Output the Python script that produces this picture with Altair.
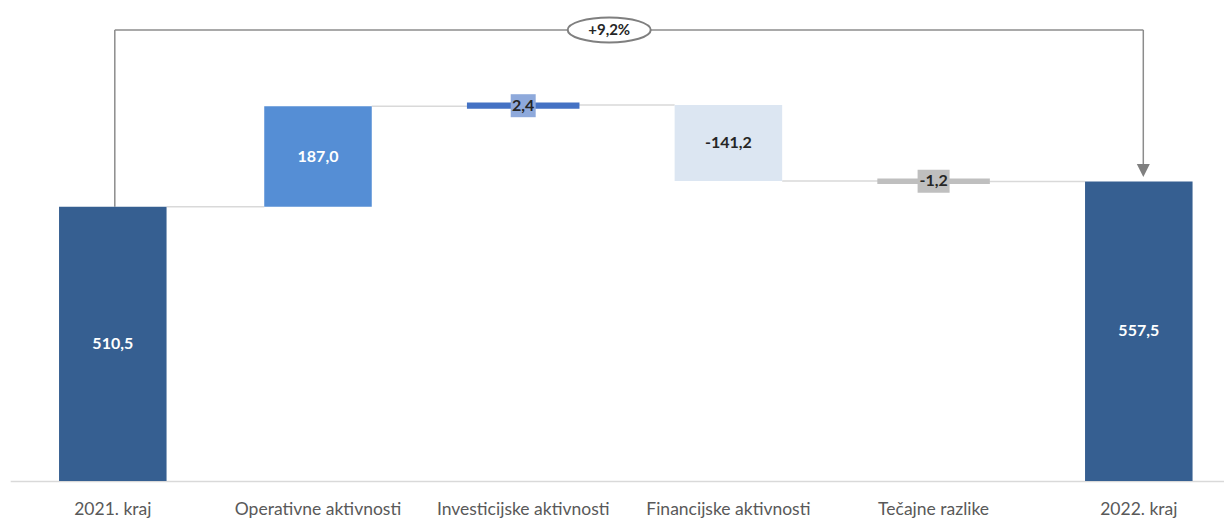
import altair as alt
import pandas as pd

# ---- data ----
categories = ["2021. kraj", "Operativne aktivnosti", "Investicijske aktivnosti",
              "Financijske aktivnosti", "Tečajne razlike", "2022. kraj"]
values = [510.5, 187.0, 2.4, -141.2, -1.2, 557.5]
kinds = ["total", "delta", "delta", "delta", "delta", "total"]
bar_colors = ["#365F91", "#558ED5", "#4472C4", "#DCE6F2", "#BFBFBF", "#365F91"]
label_colors = ["#FFFFFF", "#FFFFFF", "#262626", "#262626", "#262626", "#FFFFFF"]
box_colors = ["#FFFFFF", "#FFFFFF", "#8EA9DB", "#FFFFFF", "#BFBFBF", "#FFFFFF"]

# ---- build waterfall table ----
rows = []
level = 0.0
for i, (c, v, k) in enumerate(zip(categories, values, kinds)):
    if k == "total":
        start, end = 0.0, v
    else:
        start, end = level, level + v
    level = end
    lab = f"{v:.1f}".replace(".", ",")
    rows.append(dict(cat=c, value=v, kind=k, start=start, end=end,
                     mid=(start + end) / 2, label=lab,
                     nxt=categories[i + 1] if i + 1 < len(categories) else "",
                     small=bool(abs(v) < 10),
                     bcol=bar_colors[i], lcol=label_colors[i], xcol=box_colors[i]))
df = pd.DataFrame(rows)

pct = (values[-1] / values[0] - 1) * 100
pct_label = ("+" if pct >= 0 else "") + f"{pct:.1f}".replace(".", ",") + "%"
ANNOT_Y = 839.7
ARROW_END = 586.5
ARROW_TIP = 578.0

FONT = "Lato"
HALF_BAND = 53.75
x_scale = alt.Scale(domain=categories, range=[2.2, 1233.4],
                    paddingInner=0.476, paddingOuter=0.238)
y_scale = alt.Scale(domain=[0, 880.6], nice=False, zero=True)

X = alt.X("cat:N", scale=x_scale, sort=categories,
          axis=alt.Axis(title=None, labelAngle=0, ticks=False, labelPadding=19,
                        labelFont=FONT, labelFontSize=17.5, labelColor="#595959",
                        domainColor="#D9D9D9", domainWidth=1.5, grid=False))
Y = lambda f: alt.Y(f, scale=y_scale, axis=None)

base = alt.Chart(df)

connectors = base.transform_filter("datum.nxt != ''").mark_rule(
    color="#D9D9D9", strokeWidth=1.5, xOffset=HALF_BAND, x2Offset=-HALF_BAND).encode(
    x=X, x2="nxt:N", y=Y("end:Q"))

bars = base.mark_bar().encode(
    x=X,
    y=Y("start:Q"),
    y2="end:Q",
    color=alt.Color("bcol:N", scale=None),
    stroke=alt.Stroke("bcol:N", scale=None),
    strokeWidth=alt.condition("datum.small", alt.value(5), alt.value(0)),
)

boxes = base.transform_filter("datum.small").mark_tick(thickness=23, opacity=1).encode(
    x=X,
    y=Y("mid:Q"),
    color=alt.Color("xcol:N", scale=None),
    size=alt.condition("datum.value < 0", alt.value(32), alt.value(25)),
)

labels = base.mark_text(font=FONT, fontSize=16, fontWeight="bold",
                        baseline="middle", align="center").encode(
    x=X,
    y=Y("mid:Q"),
    text="label:N",
    color=alt.Color("lcol:N", scale=None),
)

ann = pd.DataFrame([dict(a=categories[0], b=categories[-1], top=ANNOT_Y,
                         lo=values[0], hi=ARROW_END, tip=ARROW_TIP,
                         mid=categories[2], txt=pct_label)])
abase = alt.Chart(ann)
gray = "#8C8C8C"
h_line = abase.mark_rule(color=gray, strokeWidth=1.5, xOffset=2, x2Offset=4.5).encode(
    x=alt.X("a:N", scale=x_scale), x2="b:N", y=Y("top:Q"))
l_line = abase.mark_rule(color=gray, strokeWidth=1.5, xOffset=2).encode(
    x=alt.X("a:N", scale=x_scale), y=Y("top:Q"), y2="lo:Q")
r_line = abase.mark_rule(color=gray, strokeWidth=1.5, xOffset=4.5).encode(
    x=alt.X("b:N", scale=x_scale), y=Y("top:Q"), y2="hi:Q")
arrow = abase.mark_point(shape="M-1,-1 L1,-1 L0,1 Z", filled=True, color="#808080",
                         size=169, opacity=1, xOffset=4.5).encode(
    x=alt.X("b:N", scale=x_scale), y=Y("tip:Q"))
ellipse_path = ("M-1,0 C-1,-0.1657 -0.5523,-0.3 0,-0.3 C0.5523,-0.3 1,-0.1657 1,0 "
                "C1,0.1657 0.5523,0.3 0,0.3 C-0.5523,0.3 -1,0.1657 -1,0 Z")
ellipse = abase.mark_point(shape=ellipse_path, filled=False, fill="#FFFFFF", fillOpacity=1,
                           stroke="#7F7F7F", strokeWidth=2, size=6889, opacity=1,
                           xOffset=86).encode(
    x=alt.X("mid:N", scale=x_scale), y=Y("top:Q"))
ell_text = abase.mark_text(font=FONT, fontSize=15, fontWeight="bold", color="#262626",
                           xOffset=86, baseline="middle").encode(
    x=alt.X("mid:N", scale=x_scale), y=Y("top:Q"), text="txt:N")

chart = alt.layer(connectors, h_line, l_line, r_line, arrow, bars, boxes, labels,
                  ellipse, ell_text).properties(
    width=1216, height=473,
    background="#FFFFFF",
    autosize=alt.AutoSizeParams(type="none"),
    padding={"left": 0, "top": 0, "right": 0, "bottom": 40},
).configure_view(stroke=None)

chart.save("out.html", embed_options={"renderer": "svg", "actions": False})
